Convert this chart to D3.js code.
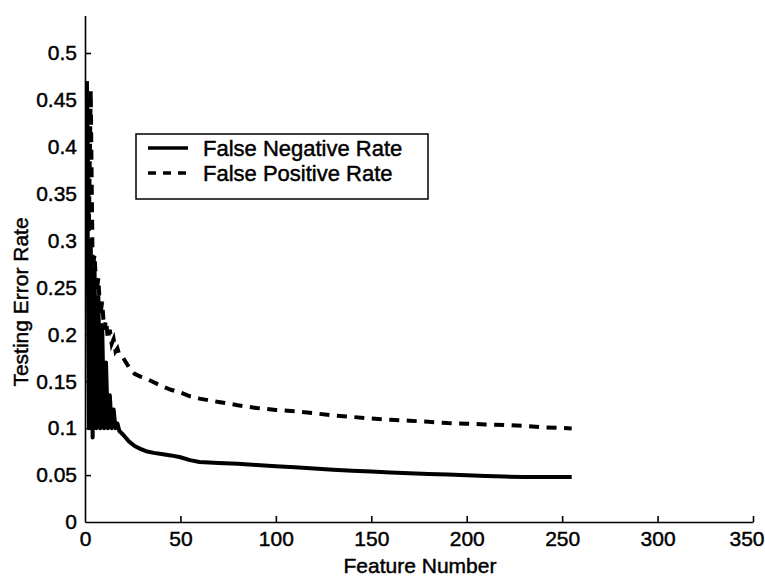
<!DOCTYPE html>
<html>
<head>
<meta charset="utf-8">
<script src="https://cdn.jsdelivr.net/npm/d3@7"></script>
<style>
  body { margin: 0; background: #fff; }
  svg { display: block; font-family: "Liberation Sans", Arial, sans-serif; }
  .axis path, .axis line { stroke: #000; stroke-width: 1.6px; }
  .axis text { font-size: 21px; fill: #000; stroke: #000; stroke-width: 0.45px; }
  .lbl { font-size: 21px; fill: #000; stroke: #000; stroke-width: 0.45px; }
</style>
</head>
<body>
<svg width="765" height="578"></svg>
<script>
const WIDTH = 765;
const HEIGHT = 578;

// feature numbers (sparse after the noisy start)
const features = [1, 2, 3, 4, 5, 6, 7, 8, 9, 10, 11, 12, 13, 14, 15, 16, 17, 18,
  20, 23, 26, 29, 32, 36, 40, 45, 50, 55, 60, 70, 80, 90, 100, 110, 120, 130,
  140, 150, 160, 170, 180, 190, 200, 210, 220, 230, 240, 255];

const falseNegative = [0.46, 0.10, 0.30, 0.09, 0.27, 0.10, 0.24, 0.10, 0.21, 0.10,
  0.17, 0.10, 0.135, 0.10, 0.12, 0.10, 0.105, 0.097,
  0.093, 0.086, 0.081, 0.078, 0.0755, 0.0737, 0.0725, 0.071, 0.069, 0.066, 0.064,
  0.063, 0.0622, 0.0608, 0.0595, 0.0583, 0.057, 0.0558, 0.0547, 0.0538, 0.0528,
  0.052, 0.0513, 0.0506, 0.0498, 0.049, 0.0484, 0.048, 0.048, 0.048];

const falsePositive = [0.47, 0.31, 0.46, 0.27, 0.285, 0.245, 0.26, 0.22, 0.235, 0.205,
  0.215, 0.195, 0.205, 0.19, 0.195, 0.182, 0.185, 0.178,
  0.175, 0.165, 0.158, 0.155, 0.153, 0.149, 0.145, 0.141, 0.138, 0.134, 0.1315,
  0.128, 0.1245, 0.1215, 0.1195, 0.118, 0.116, 0.1135, 0.112, 0.1103, 0.109,
  0.108, 0.1068, 0.1055, 0.1048, 0.104, 0.1033, 0.1025, 0.101, 0.0998];

const xTicks = [0, 50, 100, 150, 200, 250, 300, 350];
const xTickLabels = ["0", "50", "100", "150", "200", "250", "300", "350"];
const yTicks = [0, 0.05, 0.1, 0.15, 0.2, 0.25, 0.3, 0.35, 0.4, 0.45, 0.5];
const yTickLabels = ["0", "0.05", "0.1", "0.15", "0.2", "0.25", "0.3", "0.35", "0.4", "0.45", "0.5"];

const seriesNames = ["False Negative Rate", "False Positive Rate"];

let svg = d3.select("svg");

let x = d3.scaleLinear().domain([0, 350]).range([85, 753]);
let y = d3.scaleLinear().domain([0, 0.54]).range([522, 522 - 0.54 * 938]);

// axes (ticks point inward)
svg.append("g")
   .attr("class", "axis")
   .attr("transform", "translate(0," + y(0) + ")")
   .call(d3.axisBottom(x)
           .tickValues(xTicks)
           .tickSizeInner(-6)
           .tickSizeOuter(0)
           .tickPadding(9)
           .tickFormat((d, i) => xTickLabels[i]));

// keep the last label inside the window
svg.selectAll(".axis .tick").filter(d => d === 350).select("text")
   .attr("text-anchor", "end")
   .attr("x", 11);

svg.append("g")
   .attr("class", "axis")
   .attr("transform", "translate(" + x(0) + ",0)")
   .call(d3.axisLeft(y)
           .tickValues(yTicks)
           .tickSizeInner(-6)
           .tickSizeOuter(0)
           .tickPadding(8)
           .tickFormat((d, i) => yTickLabels[i]));

// no tick mark at the origin
svg.selectAll(".axis .tick").filter(d => d === 0).select("line").remove();

svg.append("text")
   .attr("class", "lbl")
   .attr("x", 420)
   .attr("y", 573)
   .attr("text-anchor", "middle")
   .text("Feature Number");

svg.append("text")
   .attr("class", "lbl")
   .attr("transform", "translate(28,302) rotate(-90)")
   .attr("text-anchor", "middle")
   .text("Testing Error Rate");

const line = d3.line()
               .x((d, i) => x(features[i]))
               .y(d => y(d));

svg.append("path")
   .datum(falseNegative)
   .attr("d", line)
   .attr("fill", "none")
   .attr("stroke", "#000")
   .attr("stroke-width", 4)
   .attr("stroke-linejoin", "round");

svg.append("path")
   .datum(falsePositive)
   .attr("d", line)
   .attr("fill", "none")
   .attr("stroke", "#000")
   .attr("stroke-width", 4)
   .attr("stroke-dasharray", "10,7.5");

// legend
let legend = svg.append("g");
legend.append("rect")
      .attr("x", 136).attr("y", 134)
      .attr("width", 292).attr("height", 65)
      .attr("fill", "#fff")
      .attr("stroke", "#000")
      .attr("stroke-width", 1.5);

seriesNames.forEach((name, i) => {
  let cy = 148 + i * 25;
  legend.append("line")
        .attr("x1", 148).attr("x2", 188)
        .attr("y1", cy).attr("y2", cy)
        .attr("stroke", "#000")
        .attr("stroke-width", 3.5)
        .attr("stroke-dasharray", i === 1 ? "8,7" : null);
  legend.append("text")
        .attr("class", "lbl")
        .attr("x", 203)
        .attr("y", cy + 8)
        .style("font-size", "22px")
        .text(name);
});
</script>
</body>
</html>
